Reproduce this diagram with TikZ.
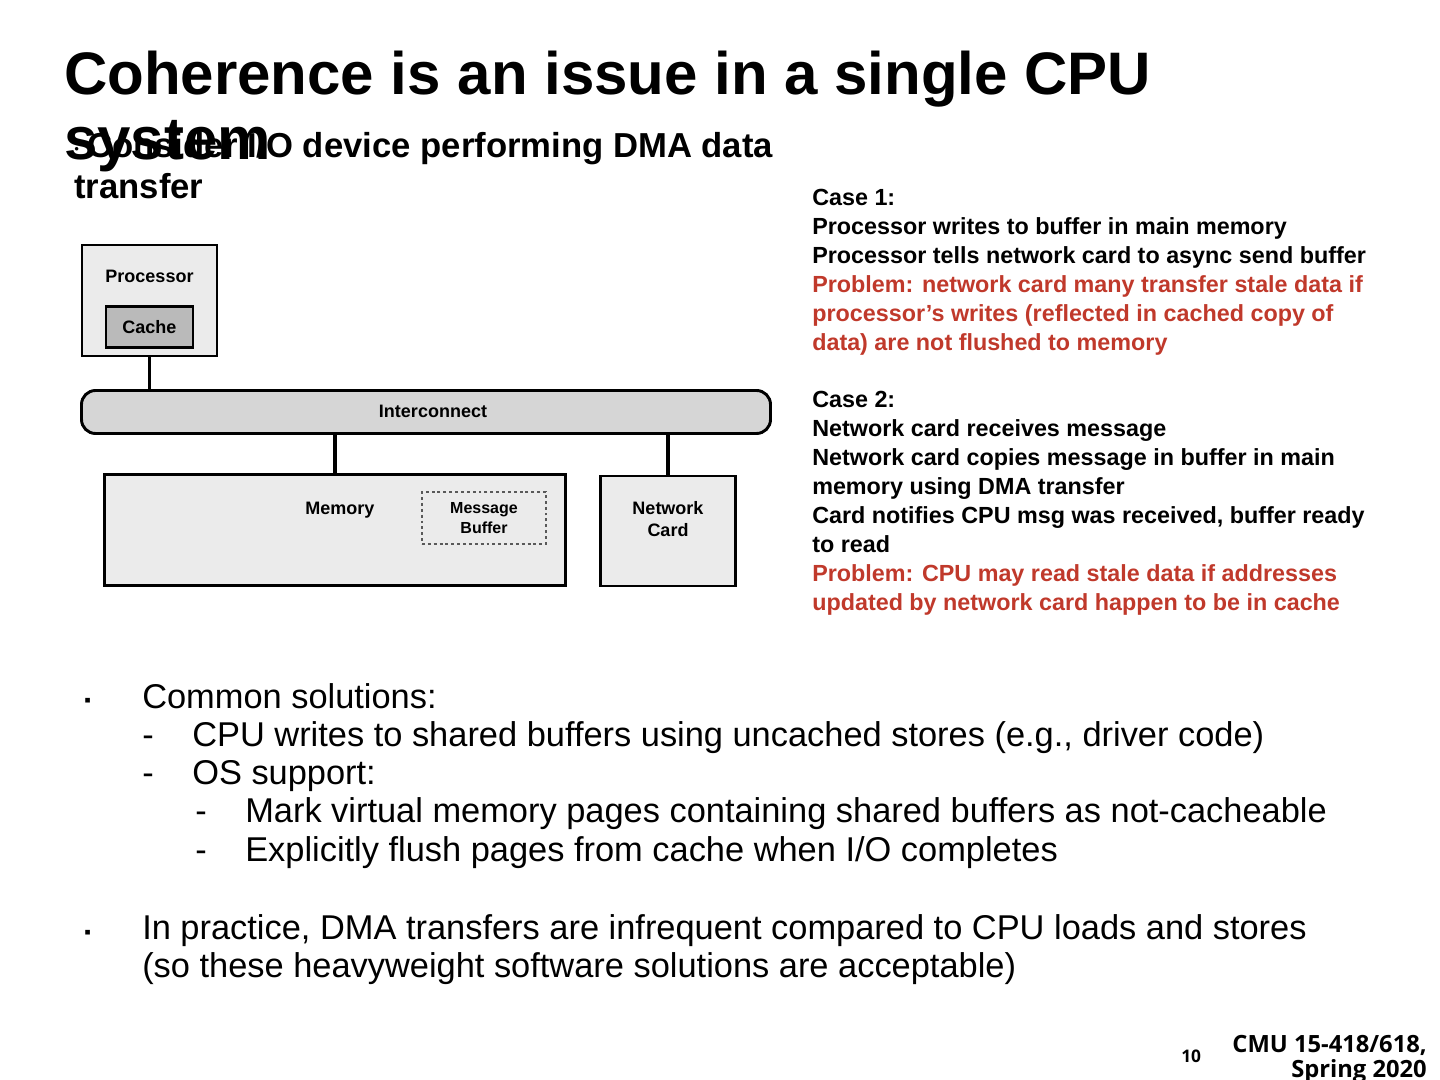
\documentclass[tikz,border=0pt]{standalone}
\usepackage{fontspec}
\setmainfont{Liberation Sans}
\newfontfamily\foot{Open Sans}
\begin{document}
\begin{tikzpicture}[x=0.75pt,y=-0.75pt,
  box/.style={draw=black,line width=2.2pt,fill=black!8,inner sep=0pt},
  lbl/.style={font=\fontsize{13.5}{16}\selectfont\bfseries,align=center},
  wire/.style={line width=2.5pt},
  cs/.style={anchor=north west,align=left,font=\fontsize{17.5}{21.75}\selectfont\bfseries,inner sep=0pt},
  bl/.style={anchor=base west,inner sep=0pt,font=\fontsize{25.8}{29}\selectfont}]
\useasboundingbox (0,0) rectangle (1440,1080);
\node[anchor=base west,inner sep=0pt,font=\fontsize{45}{50}\selectfont\bfseries] (t1) at (64,95) {Coherence is an issue in a single CPU};
\node[anchor=base west,inner sep=0pt,font=\fontsize{45}{50}\selectfont\bfseries] (t2) at (64,160) {system};
\node[anchor=base west,inner sep=0pt,font=\fontsize{26}{30}\selectfont\bfseries] (s1) at (72,158) {$\cdot$\,Consider I/O device performing DMA data};
\node[anchor=base west,inner sep=0pt,font=\fontsize{26}{30}\selectfont\bfseries] (s2) at (74,199) {transfer};
% diagram
\node[box,minimum width=101.25pt,minimum height=83.25pt] (proc) at (149.5,300.5) {};
\node[lbl,anchor=base] (plab) at (149.5,283) {Processor};
\node[box,fill=black!27,minimum width=65.25pt,minimum height=30.75pt] (cache) at (149.5,327) {\fontsize{13.5}{16}\selectfont\bfseries Cache};
\node[box,rounded corners=10.5pt,fill=black!16,minimum width=516.75pt,minimum height=32.25pt] (ic) at (426,412) {};
\node[lbl,anchor=base] (iclab) at (433,418) {Interconnect};
\node[box,minimum width=345.75pt,minimum height=83.25pt] (mem) at (335,530) {};
\node[lbl,anchor=base] (mlab) at (340,515) {Memory};
\node[draw=black!65,dash pattern=on 2.2pt off 2.2pt,line width=2pt,minimum width=93pt,minimum height=39pt,lbl,font=\fontsize{12}{14.5}\selectfont\bfseries] (buf) at (484,518) {Message\\Buffer};
\node[box,minimum width=101.25pt,minimum height=82.5pt] (nc) at (668,531) {};
\node[lbl,font=\fontsize{13.5}{17}\selectfont\bfseries] (nclab) at (668,519) {Network\\Card};
\draw[wire] (proc.south -| cache) -- (ic.north -| cache);
\draw[wire] (ic.south -| mem) -- (mem.north);
\draw[wire] (ic.south -| nc) -- (nc.north);
% cases
\node[cs] (c1) at (812,189) {Case 1:\\Processor writes to buffer in main memory\\Processor tells network card to async send buffer\\
\textcolor[HTML]{C0392B}{Problem: network card many transfer stale data if}\\
\textcolor[HTML]{C0392B}{processor’s writes (reflected in cached copy of}\\
\textcolor[HTML]{C0392B}{data) are not flushed to memory}};
\node[cs] (c2) at (812,391) {Case 2:\\Network card receives message\\Network card copies message in buffer in main\\memory using DMA transfer\\Card notifies CPU msg was received, buffer ready\\to read\\
\textcolor[HTML]{C0392B}{Problem: CPU may read stale data if addresses}\\
\textcolor[HTML]{C0392B}{updated by network card happen to be in cache}};
% bullets
\node[bl,font=\fontsize{14}{16}\selectfont] (b1) at (84,706) {▪};
\node[bl] (l1) at (142,708) {Common solutions:};
\node[bl] (d1) at (142,746) {-};
\node[bl] (l2) at (192,746) {CPU writes to shared buffers using uncached stores (e.g., driver code)};
\node[bl] (d2) at (142,784) {-};
\node[bl] (l3) at (192,784) {OS support:};
\node[bl] (d3) at (195,822) {-};
\node[bl] (l4) at (245,822) {Mark virtual memory pages containing shared buffers as not-cacheable};
\node[bl] (d4) at (195,861) {-};
\node[bl] (l5) at (245,861) {Explicitly flush pages from cache when I/O completes};
\node[bl,font=\fontsize{14}{16}\selectfont] (b2) at (84,938) {▪};
\node[bl] (l6) at (142,939) {In practice, DMA transfers are infrequent compared to CPU loads and stores};
\node[bl] (l7) at (142,977) {(so these heavyweight software solutions are acceptable)};
% footer
\node[anchor=base west,inner sep=0pt,font=\foot\fontsize{13}{14}\selectfont\bfseries] (pg) at (1181,1062) {10};
\node[anchor=base east,inner sep=0pt,font=\foot\fontsize{17.8}{18}\selectfont\bfseries] (ft) at (1427,1052) {CMU 15-418/618,};
\node[anchor=base east,inner sep=0pt,font=\foot\fontsize{17.8}{18}\selectfont\bfseries] (ft2) at (1427,1077) {Spring 2020};
\end{tikzpicture}
\end{document}
